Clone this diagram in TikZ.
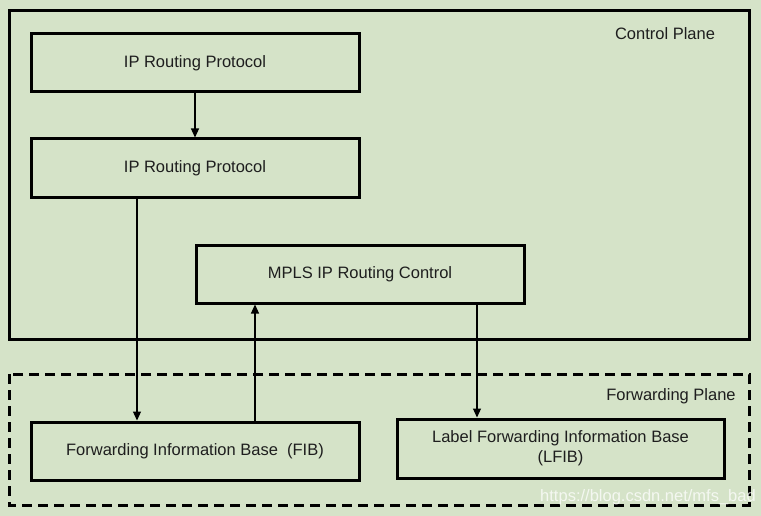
\documentclass[tikz,border=0pt]{standalone}
\usepackage{fontspec}
\setmainfont{Liberation Sans}
\usetikzlibrary{arrows.meta}
\definecolor{bggreen}{RGB}{213,227,200}
\definecolor{txt}{RGB}{30,30,30}
\begin{document}
\begin{tikzpicture}[x=1pt,y=-1pt,
  box/.style={draw=black,line width=3pt,minimum width=#1,inner sep=0pt,align=center,text=txt,font=\fontsize{16.5}{20}\selectfont},
  conn/.style={line width=1.2pt,-{Triangle[width=8pt,length=9pt]}},
  lbl/.style={font=\fontsize{16.5}{20}\selectfont,inner sep=0pt,text=txt}]
\fill[bggreen] (0,0) rectangle (761,516);
\useasboundingbox (0,0) rectangle (761,516);
% planes
\draw[line width=3pt] (9,11) rectangle (749,339);
\draw[line width=3pt,dash pattern=on 10pt off 6pt] (9,374) rectangle (749,505);
\node[lbl] (cp) at (665,34) {Control Plane};
\node[lbl] (fp) at (671,396) {Forwarding Plane};
% boxes
\node[box=328pt,minimum height=58pt] (ip1) at (195,63) {IP Routing Protocol};
\node[box=328pt,minimum height=59pt] (ip2) at (195,168.5) {IP Routing Protocol};
\node[box=328pt,minimum height=58pt] (mpls) at (360,274) {MPLS IP Routing Control};
\node[box=328pt,minimum height=58pt] (fib) at (195,451) {Forwarding Information Base~~(FIB)};
\node[box=327pt,minimum height=59pt] (lfib) at (560.5,448.5) {Label Forwarding Information Base\\(LFIB)};
% connectors
\draw[conn] (ip1.south) -- (ip2.north);
\draw[conn] (ip2.south -| 137,0) -- (fib.north -| 137,0);
\draw[conn] (fib.north -| 255,0) -- (mpls.south -| 255,0);
\draw[conn] (mpls.south -| 477,0) -- (lfib.north -| 477,0);
% watermark
\node[lbl,text=white,opacity=0.75] (wm) at (648,497) {https://blog.csdn.net/mfs\_bad};
\end{tikzpicture}
\end{document}
